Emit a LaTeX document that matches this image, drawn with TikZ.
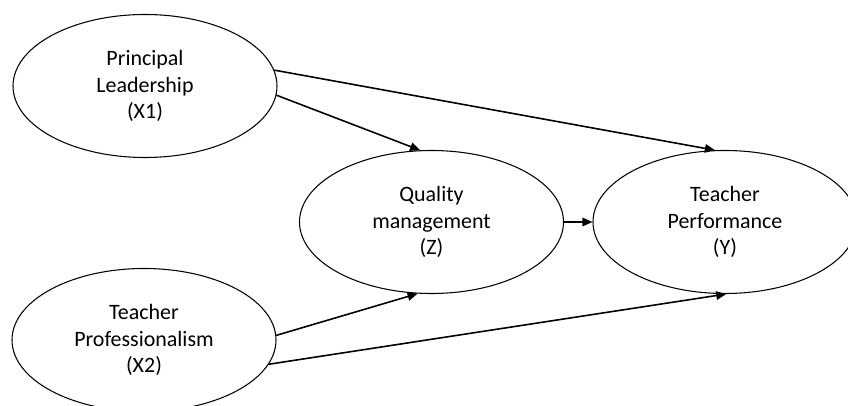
\documentclass[tikz,border=0pt]{standalone}
\usepackage{fontspec}
\setmainfont{Carlito}
\usetikzlibrary{shapes.geometric,arrows.meta,positioning}

\begin{document}
\begin{tikzpicture}[
    construct/.style={ellipse, draw=black, line width=0.6pt, minimum width=5.28cm, minimum height=2.86cm, align=center, inner sep=0pt, font=\fontsize{12.5}{15.2}\selectfont},
    effect/.style={-{Triangle[length=2mm, width=1.7mm]}, line width=0.9pt}
]
\useasboundingbox (0,0) rectangle (16.96,8.1);

% Independent variables
\node[construct] (x1) at (2.90, 6.38) {Principal\\Leadership\\(X1)};
\node[construct] (x2) at (2.88, 1.30) {Teacher\\Professionalism\\(X2)};

% Mediator and dependent variable
\node[construct] (z) at (8.63, 3.66) {Quality\\management\\(Z)};
\node[construct] (y) at (14.50, 3.66) {Teacher\\Performance\\(Y)};

% Paths
\draw[effect] (x1.7) -- (y.98);
\draw[effect] (x1.-4) -- (z.99);
\draw[effect] (x2.2) -- (z.259);
\draw[effect] (x2.-11) -- (y.271);
\draw[effect] (z.east) -- (y.west);

\end{tikzpicture}
\end{document}
